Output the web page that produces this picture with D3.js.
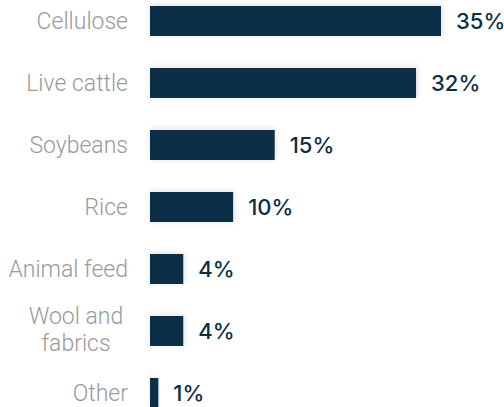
<!DOCTYPE html>
<html>
<head>
<meta charset="utf-8">
<script src="https://cdn.jsdelivr.net/npm/d3@7"></script>
<style>
  html, body { margin: 0; padding: 0; background: #fff; }
  svg { display: block; }
</style>
</head>
<body>
<svg id="chart" width="504" height="407"></svg>
<script>
// Share of each commodity, in percent
const categories = ["Cellulose", "Live cattle", "Soybeans", "Rice", "Animal feed", "Wool and fabrics", "Other"];
const values = [35, 32, 15, 10, 4, 4, 1];
const valueLabels = ["35%", "32%", "15%", "10%", "4%", "4%", "1%"];
// Category names split over lines where they wrap
const categoryLines = [["Cellulose"], ["Live cattle"], ["Soybeans"], ["Rice"], ["Animal feed"], ["Wool and", "fabrics"], ["Other"]];

const W = 504, H = 407;
const barColor = "#0b2e46";
const labelGray = "#9a9a9a";

const svg = d3.select("#chart");

// soft shadow around the bars
const defs = svg.append("defs");
const f = defs.append("filter").attr("id", "barShadow")
  .attr("x", "-20%").attr("y", "-50%").attr("width", "140%").attr("height", "200%");
f.append("feDropShadow").attr("dx", 1).attr("dy", -1)
  .attr("stdDeviation", 3).attr("flood-color", "#000").attr("flood-opacity", 0.12);

const x = d3.scaleLinear().domain([0, 35]).range([150, 441]);
const y = d3.scaleBand().domain(categories).range([6, 408])
  .paddingInner(32 / 62).paddingOuter(0);

const data = categories.map((c, i) => ({ c, v: values[i], label: valueLabels[i], lines: categoryLines[i] }));

// bars
svg.append("g").selectAll("rect").data(data).join("rect")
  .attr("x", x(0))
  .attr("y", d => y(d.c))
  .attr("width", d => x(d.v) - x(0))
  .attr("height", y.bandwidth())
  .attr("fill", barColor)
  .attr("filter", "url(#barShadow)");

// category labels: single lines right-aligned, wrapped names centred as a block
const catG = svg.append("g")
  .attr("font-family", "Roboto, 'Noto Sans', sans-serif")
  .attr("font-weight", 300)
  .attr("font-size", 23)
  .attr("fill", labelGray);

catG.selectAll("text").data(data).join("text")
  .attr("text-anchor", d => d.lines.length > 1 ? "middle" : "end")
  .each(function(d) {
    const t = d3.select(this);
    const lh = 27;
    const n = d.lines.length;
    const tx = n > 1 ? 76 : 128;
    d.lines.forEach((ln, k) => {
      t.append("tspan")
        .attr("x", tx)
        .attr("y", y(d.c) + y.bandwidth() / 2 + 7.8 + (k - (n - 1) / 2) * lh - (n > 1 ? 1.5 : 0))
        .text(ln);
    });
  });

// value labels
svg.append("g")
  .attr("font-family", "Inter, Roboto, sans-serif")
  .attr("font-weight", 500)
  .attr("font-size", 22)
  .attr("fill", barColor)
  .selectAll("text").data(data).join("text")
  .attr("x", d => x(d.v) + 15)
  .attr("y", d => y(d.c) + y.bandwidth() / 2 + 8)
  .text(d => d.label);
</script>
</body>
</html>
